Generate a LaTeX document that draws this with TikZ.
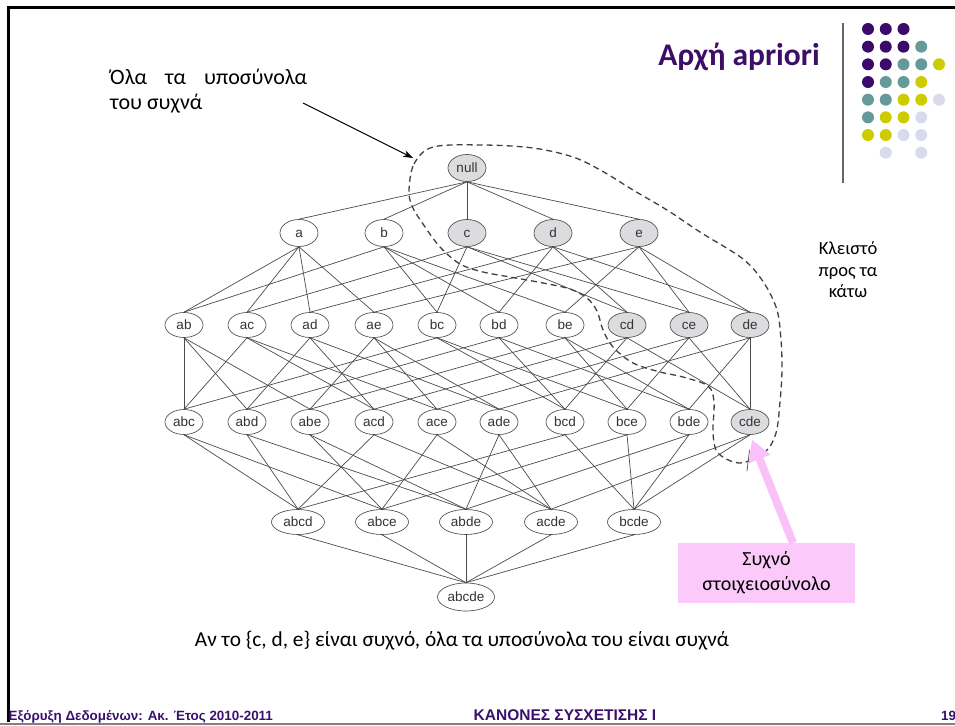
\documentclass[tikz,border=0pt]{standalone}
\usepackage{fontspec}
\setmainfont{Carlito}
\newfontfamily\lattfont{Liberation Sans}
\newfontfamily\footfont{Liberation Sans}
\usetikzlibrary{arrows.meta,shapes.geometric}

\definecolor{ttlpurple}{RGB}{60,14,104}
\definecolor{footpurple}{RGB}{58,16,110}
\definecolor{dotP}{RGB}{59,10,107}
\definecolor{dotT}{RGB}{102,153,153}
\definecolor{dotY}{RGB}{204,204,0}
\definecolor{dotL}{RGB}{218,218,237}
\definecolor{setgray}{RGB}{220,220,222}
\definecolor{edgegray}{RGB}{75,75,75}
\definecolor{boxpink}{RGB}{251,202,251}
\definecolor{arrowpink}{RGB}{249,192,249}

\tikzset{
  item/.style={ellipse, draw=edgegray, line width=0.65pt, fill=white,
    minimum width=38pt, minimum height=25pt, inner sep=0pt,
    text height=9.6pt, text depth=0pt,
    font=\lattfont\fontsize{13.5}{13.5}\selectfont, text=black!80},
  freq/.style={item, fill=setgray},
  tall/.style={minimum height=27pt},
  quad/.style={minimum width=53pt},
  penta/.style={minimum width=57pt, minimum height=28pt},
  hasse/.style={draw=edgegray, line width=0.7pt},
  closure/.style={draw=black!75, line width=1.3pt, dash pattern=on 6pt off 4pt},
  label/.style={inner sep=0pt, font=\fontsize{21.3}{25}\selectfont},
  foot/.style={inner sep=0pt, text=footpurple,
    font=\footfont\fontsize{13.4}{14}\selectfont\bfseries},
}

\begin{document}
\begin{tikzpicture}[x=1pt,y=-1pt]
\useasboundingbox (0,0) rectangle (955,725);

% slide frame
\draw[line width=3pt] (6.5,8) -- (955,8);
\draw[line width=3pt] (8,6.5) -- (8,722);
\draw[line width=2.5pt, black!50] (0,723.8) -- (955,723.8);

% title and decoration
\node[anchor=base east, inner sep=0pt, text=ttlpurple,
      font=\fontsize{31.5}{31.5}\selectfont\bfseries] (title) at (820,66) {Αρχή apriori};
\draw[line width=1.2pt, black!60] (843,23) -- (843,183);
\foreach \cn/\pts in {
    dotP/{1/1,2/1,3/1,1/2,2/2,3/2,1/3,2/3,1/4},
    dotT/{4/2,3/3,4/3,2/4,3/4,1/5,2/5,1/6},
    dotY/{5/3,4/4,3/5,4/5,2/6,3/6,1/7,2/7},
    dotL/{5/5,4/6,3/7,4/7,2/8,4/8}}
  \foreach \i/\j in \pts
    \fill[\cn] ({868+17.75*(\i-1)},{29+17.67*(\j-1)}) circle (6);

% itemset lattice
\node[freq,tall] (null) at (467,168) {null};
\node[item,tall] (a) at (299,233) {a};
\node[item,tall] (b) at (384,233) {b};
\node[freq,tall] (c) at (467,233) {c};
\node[freq,tall] (d) at (553,233) {d};
\node[freq,tall] (e) at (639,233) {e};

\node[item] (ab) at (184,325) {ab};
\node[item] (ac) at (247,325) {ac};
\node[item] (ad) at (310,325) {ad};
\node[item] (ae) at (374,325) {ae};
\node[item] (bc) at (437,325) {bc};
\node[item] (bd) at (499,325) {bd};
\node[item] (be) at (565,325) {be};
\node[freq] (cd) at (627,325) {cd};
\node[freq] (ce) at (689,325) {ce};
\node[freq] (de) at (750,325) {de};

\node[item] (abc) at (184,422) {abc};
\node[item] (abd) at (247,422) {abd};
\node[item] (abe) at (310,422) {abe};
\node[item] (acd) at (374,422) {acd};
\node[item] (ace) at (437,422) {ace};
\node[item] (ade) at (499,422) {ade};
\node[item] (bcd) at (565,422) {bcd};
\node[item] (bce) at (627,422) {bce};
\node[item] (bde) at (689,422) {bde};
\node[freq] (cde) at (750,422) {cde};

\node[item,quad] (abcd) at (298,522) {abcd};
\node[item,quad] (abce) at (382,522) {abce};
\node[item,quad] (abde) at (466,522) {abde};
\node[item,quad] (acde) at (551,522) {acde};
\node[item,quad] (bcde) at (634,522) {bcde};

\node[item,penta] (abcde) at (466,597) {abcde};

\foreach \p/\cs in {
    null/{a,b,c,d,e},
    a/{ab,ac,ad,ae}, b/{ab,bc,bd,be}, c/{ac,bc,cd,ce}, d/{ad,bd,cd,de}, e/{ae,be,ce,de},
    ab/{abc,abd,abe}, ac/{abc,acd,ace}, ad/{abd,acd,ade}, ae/{abe,ace,ade},
    bc/{abc,bcd,bce}, bd/{abd,bcd,bde}, be/{abe,bce,bde},
    cd/{acd,bcd,cde}, ce/{ace,bce,cde}, de/{ade,bde,cde},
    abc/{abcd,abce}, abd/{abcd,abde}, abe/{abce,abde}, acd/{abcd,acde},
    ace/{abce,acde}, ade/{abde,acde}, bcd/{abcd,bcde}, bce/{abce,bcde},
    bde/{abde,bcde}, cde/{acde,bcde},
    abcd/{abcde}, abce/{abcde}, abde/{abcde}, acde/{abcde}, bcde/{abcde}}
  \foreach \c in \cs
    \draw[hasse] (\p.south) -- (\c.north);

% downward-closed region of frequent itemsets
\draw[closure] plot[smooth cycle, tension=0.55] coordinates {
  (409,190) (414,164) (433,147) (483,145) (533,148) (573,157) (602,171)
  (633,190) (667,210) (700,232) (743,259) (764,283) (777,310) (781,340)
  (782,370) (780,402) (776,433) (765,452) (740,463) (718,453) (713,433)
  (714,402) (708,386) (683,377) (660,372) (633,363) (613,347) (603,330)
  (597,311) (587,298) (570,289) (543,283) (510,277) (483,272) (460,264)
  (440,247) (423,224) (412,206)};

% small pointer stub under cde
\coordinate (stubA) at (747,471);
\coordinate (stubB) at (749.5,450);
\draw[line width=0.7pt, black!70] (stubA) -- (stubB);

% annotation: all subsets
\node[anchor=base west, inner sep=0pt, font=\fontsize{22}{26}\selectfont] (subsA) at (110,84)
  {\makebox[197pt][s]{Όλα τα υποσύνολα}};
\node[anchor=base west, inner sep=0pt, font=\fontsize{22}{26}\selectfont] (subsB) at (110,109)
  {του συχνά};
\coordinate (arrS) at (303,103);
\coordinate (arrE) at (413,158);
\draw[line width=0.9pt, -{Stealth[length=10pt,width=7pt]}] (arrS) -- (arrE);

% annotation: closed downwards
\node[align=center, inner sep=0pt, font=\fontsize{18.5}{21.5}\selectfont] (closed) at (848,270)
  {Κλειστό\\προς τα\\κάτω};

% frequent itemset callout
\node[fill=boxpink, minimum width=177pt, minimum height=60pt, inner sep=0pt,
      align=center, font=\fontsize{20}{25}\selectfont] (freqbox) at (766.5,573)
  {Συχνό\\στοιχειοσύνολο};
\coordinate (ptail) at (793,543);
\draw[arrowpink, line width=8pt, shorten >=5pt,
      -{Triangle[length=21pt,width=22pt]}] (ptail) -- (cde.south);

% caption
\node[label] (caption) at (462,641) {Αν το \{c, d, e\} είναι συχνό, όλα τα υποσύνολα του είναι συχνά};

% footer
\node[foot, anchor=base west] (footL) at (8.5,720.5)
  {Εξόρυξη Δεδομένων: Ακ. Έτος 2010-2011};
\node[foot, anchor=base, font=\footfont\fontsize{15.5}{15.5}\selectfont\bfseries] (footC) at (565,720.5)
  {ΚΑΝΟΝΕΣ ΣΥΣΧΕΤΙΣΗΣ Ι};
\node[foot, anchor=base west] (footR) at (941,720.5) {19};
\end{tikzpicture}
\end{document}
